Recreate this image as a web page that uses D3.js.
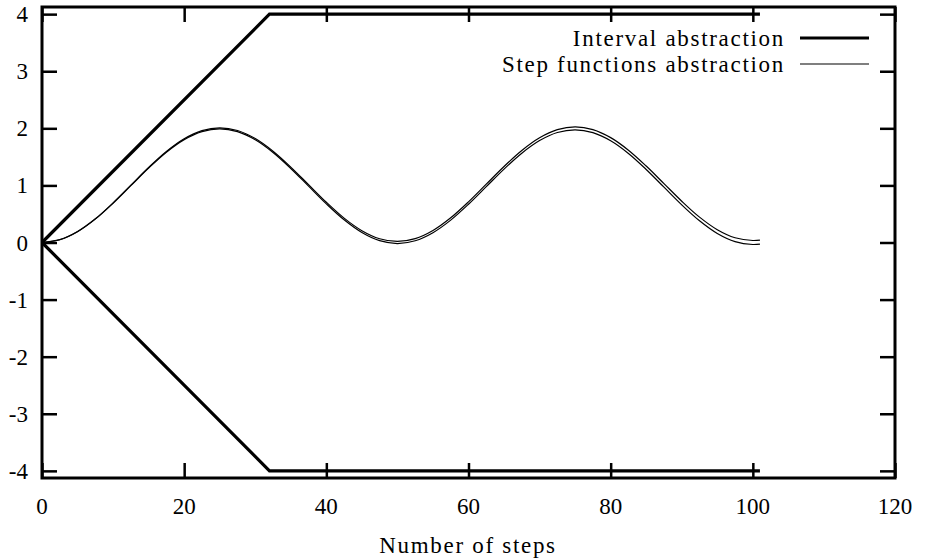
<!DOCTYPE html>
<html>
<head>
<meta charset="utf-8">
<script src="https://cdn.jsdelivr.net/npm/d3@7"></script>
</head>
<body style="margin:0">
<script>
// Steps sampled along the step-function bounds
const steps = [0, 2.5, 5, 7.5, 10, 12.5, 15, 17.5, 20, 22.5, 25, 27.5, 30, 32.5, 35, 37.5, 40, 42.5, 45, 47.5,
  50, 52.5, 55, 57.5, 60, 62.5, 65, 67.5, 70, 72.5, 75, 77.5, 80, 82.5, 85, 87.5, 90, 92.5, 95, 97.5, 100, 101];
const stepUpper = [0, 0.050, 0.193, 0.415, 0.695, 1.004, 1.314, 1.594, 1.816, 1.959, 2.009, 1.961, 1.820, 1.599, 1.321, 1.013, 0.705, 0.427, 0.207, 0.066,
  0.018, 0.067, 0.210, 0.432, 0.712, 1.022, 1.332, 1.612, 1.834, 1.976, 2.026, 1.978, 1.837, 1.617, 1.339, 1.031, 0.723, 0.444, 0.224, 0.083, 0.035, 0.043];
const stepLower = [0, 0.048, 0.189, 0.409, 0.688, 0.996, 1.304, 1.582, 1.802, 1.943, 1.991, 1.941, 1.799, 1.577, 1.297, 0.987, 0.677, 0.397, 0.175, 0.032,
  -0.018, 0.031, 0.172, 0.392, 0.670, 0.978, 1.286, 1.564, 1.785, 1.926, 1.974, 1.924, 1.781, 1.559, 1.279, 0.969, 0.659, 0.380, 0.158, 0.015, -0.035, -0.027];

// Interval abstraction bounds
const intervalSteps = [0, 32, 101];
const intervalUpper = [0, 4, 4];
const intervalLower = [0, -4, -4];

const xTicks = [0, 20, 40, 60, 80, 100, 120];
const yTicks = [-4, -3, -2, -1, 0, 1, 2, 3, 4];
const legendLabels = ["Interval abstraction", "Step functions abstraction"];

const W = 926, H = 559;
const m = { left: 42, right: 895, top: 7, bottom: 478 };
const FONT = '"Liberation Serif", "Times New Roman", Tinos, serif';

const svg = d3.select("body").append("svg")
  .attr("width", W).attr("height", H);

const x = d3.scaleLinear().domain([0, 120]).range([m.left, m.right]);
const y = d3.scaleLinear().domain([-4.125, 4.125]).range([m.bottom, m.top]);

const line = d3.line()
  .x(d => x(d[0]))
  .y(d => y(d[1]));
const smooth = d3.line()
  .x(d => x(d[0]))
  .y(d => y(d[1]))
  .curve(d3.curveCatmullRom);

// step function bounds (thin)
[stepUpper, stepLower].forEach(vals => {
  svg.append("path")
    .datum(steps.map((s, i) => [s, vals[i]]))
    .attr("d", smooth)
    .attr("fill", "none")
    .attr("stroke", "#000")
    .attr("stroke-width", 1.2);
});

// interval bounds (thick)
[intervalUpper, intervalLower].forEach(vals => {
  svg.append("path")
    .datum(intervalSteps.map((s, i) => [s, vals[i]]))
    .attr("d", line)
    .attr("fill", "none")
    .attr("stroke", "#000")
    .attr("stroke-width", 3.2)
    .attr("stroke-linejoin", "miter");
});

// axes: inward ticks on all four sides
const tickLen = 15;
svg.append("g").attr("transform", `translate(0,${m.bottom})`)
  .call(d3.axisTop(x).tickValues(xTicks).tickSize(tickLen).tickFormat(""));
svg.append("g").attr("transform", `translate(0,${m.top})`)
  .call(d3.axisBottom(x).tickValues(xTicks).tickSize(tickLen).tickFormat(""));
svg.append("g").attr("transform", `translate(${m.left},0)`)
  .call(d3.axisRight(y).tickValues(yTicks).tickSize(tickLen).tickFormat(""));
svg.append("g").attr("transform", `translate(${m.right},0)`)
  .call(d3.axisLeft(y).tickValues(yTicks).tickSize(tickLen).tickFormat(""));
svg.selectAll(".domain").remove();
svg.selectAll(".tick line").attr("stroke", "#000").attr("stroke-width", 2.5);

// border
svg.append("rect")
  .attr("x", m.left).attr("y", m.top)
  .attr("width", m.right - m.left).attr("height", m.bottom - m.top)
  .attr("fill", "none").attr("stroke", "#000").attr("stroke-width", 3);

function label(sel) {
  return sel
    .attr("font-family", FONT)
    .style("font-family", FONT)
    .style("font-size", "23px")
    .style("fill", "#000");
}

// tick labels
const labels = svg.append("g");
labels.selectAll(".xlab").data(xTicks).enter().append("text")
  .call(label)
  .attr("x", d => x(d)).attr("y", 514)
  .attr("text-anchor", "middle")
  .text(d => String(d));
labels.selectAll(".ylab").data(yTicks).enter().append("text")
  .call(label)
  .attr("x", 28).attr("y", d => y(d) + 8)
  .attr("text-anchor", "end")
  .text(d => String(d));

labels.append("text")
  .call(label)
  .style("letter-spacing", "1.7px")
  .attr("x", 468).attr("y", 553)
  .attr("text-anchor", "middle")
  .text("Number of steps");

// legend
legendLabels.forEach((lab, i) => {
  const ly = 38 + i * 26;
  labels.append("text")
    .call(label)
    .style("letter-spacing", "1.7px")
    .attr("x", 785).attr("y", ly + 8)
    .attr("text-anchor", "end")
    .text(lab);
  svg.append("line")
    .attr("x1", 800).attr("x2", 869)
    .attr("y1", ly).attr("y2", ly)
    .attr("stroke", "#000")
    .attr("stroke-width", i === 0 ? 3.2 : 1.2);
});
</script>
</body>
</html>
